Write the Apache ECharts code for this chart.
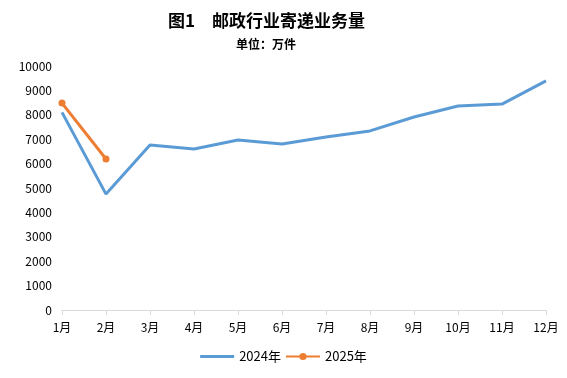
<!DOCTYPE html>
<html>
<head>
<meta charset="utf-8">
<style>
  html, body { margin: 0; padding: 0; background: #fff; }
  #chart { width: 567px; height: 378px; }
</style>
<script src="https://cdn.jsdelivr.net/npm/echarts@6/dist/echarts.min.js"></script>
</head>
<body>
<div id="chart"></div>
<script>
/* === Data === */
const months = ['1月', '2月', '3月', '4月', '5月', '6月', '7月', '8月', '9月', '10月', '11月', '12月'];
const data2024 = [8100, 4750, 6760, 6600, 6970, 6800, 7090, 7340, 7910, 8360, 8440, 9390];
const data2025 = [8480, 6190];

const FONT = "'Noto Sans CJK SC', 'Noto Sans', sans-serif";

const chart = echarts.init(document.getElementById('chart'));
chart.setOption({
  animation: false,
  title: [
    {
      text: '图1　邮政行业寄递业务量',
      left: 163, top: 7,
      textStyle: { fontSize: 17, fontWeight: 'bold', color: '#000', fontFamily: FONT }
    },
    {
      text: '单位：万件',
      left: 231, top: 33,
      textStyle: { fontSize: 12, fontWeight: 'bold', color: '#000', fontFamily: FONT }
    }
  ],
  legend: {
    bottom: 10, left: 'center',
    itemWidth: 34, itemHeight: 9, itemGap: 4,
    textStyle: { fontSize: 13, color: '#000', fontFamily: FONT },
    data: [
      // plain line icon, no marker (padded path keeps the bar thin)
      { name: '2024年', icon: 'path://M0,0M0,3H34V6H0ZM34,9', itemStyle: { color: '#5B9BD5' } },
      '2025年'
    ]
  },
  grid: { left: 62, right: 21, top: 66, bottom: 68 },
  xAxis: {
    type: 'category',
    data: months,
    boundaryGap: false,
    axisLine: { lineStyle: { color: '#d9d9d9', width: 1 } },
    axisTick: { show: true, alignWithLabel: true, length: 5, lineStyle: { color: '#d9d9d9' } },
    axisLabel: { color: '#000', fontSize: 12, margin: 11, fontFamily: FONT }
  },
  yAxis: {
    type: 'value',
    min: 0, max: 10000, interval: 1000,
    axisLine: { show: false },
    axisTick: { show: false },
    splitLine: { show: false },
    axisLabel: { color: '#000', fontSize: 12, margin: 10, fontFamily: FONT, formatter: v => String(v) }
  },
  series: [
    {
      name: '2024年',
      type: 'line',
      data: data2024,
      symbol: 'none',
      lineStyle: { color: '#5B9BD5', width: 3 },
      itemStyle: { color: '#5B9BD5' }
    },
    {
      name: '2025年',
      type: 'line',
      data: data2025,
      symbol: 'circle', symbolSize: 7,
      lineStyle: { color: '#ED7D31', width: 3 },
      itemStyle: { color: '#ED7D31' }
    }
  ]
});
</script>
</body>
</html>
